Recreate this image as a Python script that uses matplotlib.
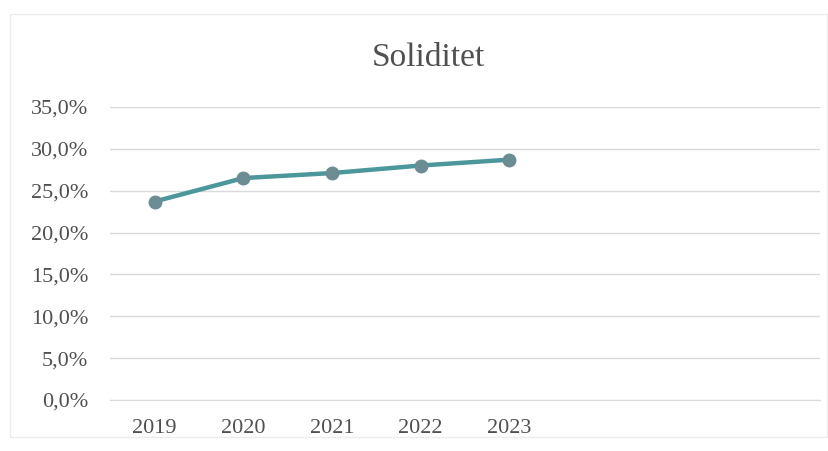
import matplotlib.pyplot as plt
from matplotlib.patches import Rectangle

# Donnees
aar = ["2019", "2020", "2021", "2022", "2023"]
soliditet = [23.7, 26.5, 27.1, 28.0, 28.7]
nb_kategorier = 8
yticks = [0, 5, 10, 15, 20, 25, 30, 35]

plt.rcParams['font.family'] = ['Liberation Serif', 'DejaVu Serif']

fig = plt.figure(figsize=(8.29, 4.51), dpi=100)
ax = fig.add_axes([0.133, 0.113, 0.856, 0.65])

x = list(range(len(aar)))
ax.plot(x, soliditet, color="#4b979c", linewidth=3.2, marker="o", markersize=9,
        markerfacecolor="#6b8c92", markeredgecolor="#6b8c92", zorder=3)

ax.set_xlim(-0.5, nb_kategorier - 0.5)
ax.set_ylim(0, 35)
ax.set_yticks(yticks)
ax.set_yticklabels([f"{v},0%" for v in yticks], fontsize=16, color="#505050")
ax.set_xticks(x)
ax.set_xticklabels(aar, fontsize=16, color="#505050")
ax.tick_params(length=0)
ax.tick_params(axis="x", pad=14)
ax.tick_params(axis="y", pad=16)

ax.grid(axis="y", color="#d9d9d9", linewidth=1)
ax.set_axisbelow(True)
for s in ["top", "right", "left"]:
    ax.spines[s].set_visible(False)
ax.spines["bottom"].set_color("#d9d9d9")

fig.text(0.517, 0.873, "Soliditet", ha="center", va="center", fontsize=24, color="#505050")

fig.patches.append(Rectangle((0.012, 0.03), 0.985, 0.94, transform=fig.transFigure,
                             fill=False, edgecolor="#ececec", linewidth=1))

fig.savefig("out.png", dpi=100)
